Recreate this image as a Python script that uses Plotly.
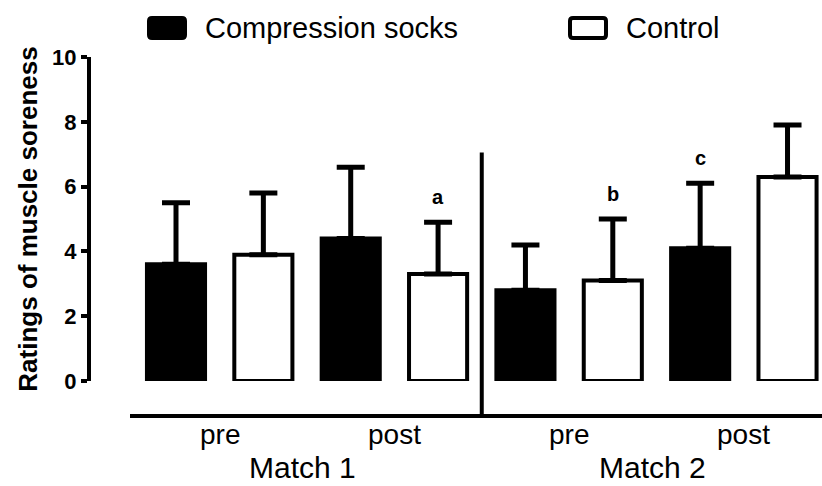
import plotly.graph_objects as go

# Muscle soreness ratings (mean and SD) by match and time point
matches = ["Match 1", "Match 2"]
times = ["pre", "post"]
socks_mean = [3.6, 4.4, 2.8, 4.1]
socks_sd = [1.9, 2.2, 1.4, 2.0]
control_mean = [3.9, 3.3, 3.1, 6.3]
control_sd = [1.9, 1.6, 1.9, 1.6]
socks_marks = ["", "", "", "c"]
control_marks = ["", "a", "b", ""]
y_ticks = [0, 2, 4, 6, 8, 10]

FONT = "Liberation Sans, Arial, Helvetica, sans-serif"
W, H = 822, 486
ML, MR, MT, MB = 91, 0, 57, 104.5
PW, PH = W - ML - MR, H - MT - MB


def px_x(px):
    return (px - ML) / PW


def px_y(py):
    return (H - MB - py) / PH


# each match/time cell holds a socks bar then a control bar
cells = [(m, t) for m in matches for t in times]
socks_x = [2 * i for i in range(len(cells))]
control_x = [2 * i + 1 for i in range(len(cells))]

err_style = dict(type="data", symmetric=False, color="black", thickness=5, width=14)

fig = go.Figure()
fig.add_trace(go.Bar(
    x=socks_x, y=socks_mean, width=0.665, name="Compression socks",
    marker=dict(color="black", line=dict(color="black", width=4)),
    error_y=dict(array=socks_sd, arrayminus=[0] * len(socks_sd), **err_style),
))
fig.add_trace(go.Bar(
    x=control_x, y=control_mean, width=0.665, name="Control",
    marker=dict(color="white", line=dict(color="black", width=4)),
    error_y=dict(array=control_sd, arrayminus=[0] * len(control_sd), **err_style),
))

annotations = []
# significance letters above the error bars
for xs, means, sds, marks in [(socks_x, socks_mean, socks_sd, socks_marks),
                              (control_x, control_mean, control_sd, control_marks)]:
    for x, m, s, lab in zip(xs, means, sds, marks):
        if lab:
            annotations.append(dict(
                x=x, y=m + s, xref="x", yref="y", text=f"<b>{lab}</b>", showarrow=False,
                yanchor="middle", yshift=25,
                font=dict(family=FONT, size=20, color="black"),
            ))

# time-point labels under each pair of bars, match labels under each group
for i, (m, t) in enumerate(cells):
    annotations.append(dict(
        x=2 * i + 0.5, y=px_y(435), xref="x", yref="paper", text=t,
        showarrow=False, yanchor="middle",
        font=dict(family=FONT, size=28, color="black"),
    ))
for j, m in enumerate(matches):
    annotations.append(dict(
        x=4 * j + 1.45, y=px_y(486), xref="x", yref="paper", text=m,
        showarrow=False, yanchor="bottom", borderpad=0,
        font=dict(family=FONT, size=30, color="black"),
    ))


def rounded_rect(x0, y0, x1, y1, r):
    # SVG path for a rectangle with rounded corners, in pixel space -> paper
    pts = [
        f"M {px_x(x0 + r)},{px_y(y0)}",
        f"L {px_x(x1 - r)},{px_y(y0)}",
        f"Q {px_x(x1)},{px_y(y0)} {px_x(x1)},{px_y(y0 + r)}",
        f"L {px_x(x1)},{px_y(y1 - r)}",
        f"Q {px_x(x1)},{px_y(y1)} {px_x(x1 - r)},{px_y(y1)}",
        f"L {px_x(x0 + r)},{px_y(y1)}",
        f"Q {px_x(x0)},{px_y(y1)} {px_x(x0)},{px_y(y1 - r)}",
        f"L {px_x(x0)},{px_y(y0 + r)}",
        f"Q {px_x(x0)},{px_y(y0)} {px_x(x0 + r)},{px_y(y0)} Z",
    ]
    return " ".join(pts)


# legend entries
legend_items = [("Compression socks", "black", 149), ("Control", "white", 570)]
shapes = []
for label, fill, left in legend_items:
    shapes.append(dict(
        type="path", xref="paper", yref="paper",
        path=rounded_rect(left, 18, left + 36, 38, 3),
        fillcolor=fill, line=dict(color="black", width=4),
    ))
    annotations.append(dict(
        x=px_x(left + 54), y=px_y(28), xref="paper", yref="paper", text=label,
        showarrow=False, xanchor="left", yanchor="middle",
        font=dict(family=FONT, size=29, color="black"),
    ))

# baseline under the bars and separator between the two matches
shapes.append(dict(
    type="line", xref="paper", yref="paper", x0=px_x(130), x1=1,
    y0=px_y(416.5), y1=px_y(416.5), line=dict(color="black", width=4),
))
shapes.append(dict(
    type="line", xref="x", yref="paper", x0=3.5, x1=3.5,
    y0=px_y(416.5), y1=px_y(152.7), line=dict(color="black", width=4),
))

fig.update_layout(
    width=W, height=H,
    margin=dict(l=ML, r=MR, t=MT, b=MB, pad=0),
    paper_bgcolor="white", plot_bgcolor="white",
    showlegend=False, barmode="overlay",
    shapes=shapes, annotations=annotations,
    xaxis=dict(range=[(ML - 176) / 87.36, (W - 176) / 87.36], showline=False,
               showticklabels=False, showgrid=False, zeroline=False, ticks=""),
    yaxis=dict(
        range=[0, 10], tickvals=y_ticks, ticktext=[f"<b>{v}</b>" for v in y_ticks],
        ticks="outside", ticklen=6, tickwidth=4,
        tickcolor="black", showline=True, linewidth=4, linecolor="black",
        showgrid=False, zeroline=False,
        tickfont=dict(family=FONT, size=22, color="black"),
        title=dict(text="<b>Ratings of muscle soreness</b>", standoff=8,
                   font=dict(family=FONT, size=26, color="black")),
    ),
)

fig.write_html("out.html")
